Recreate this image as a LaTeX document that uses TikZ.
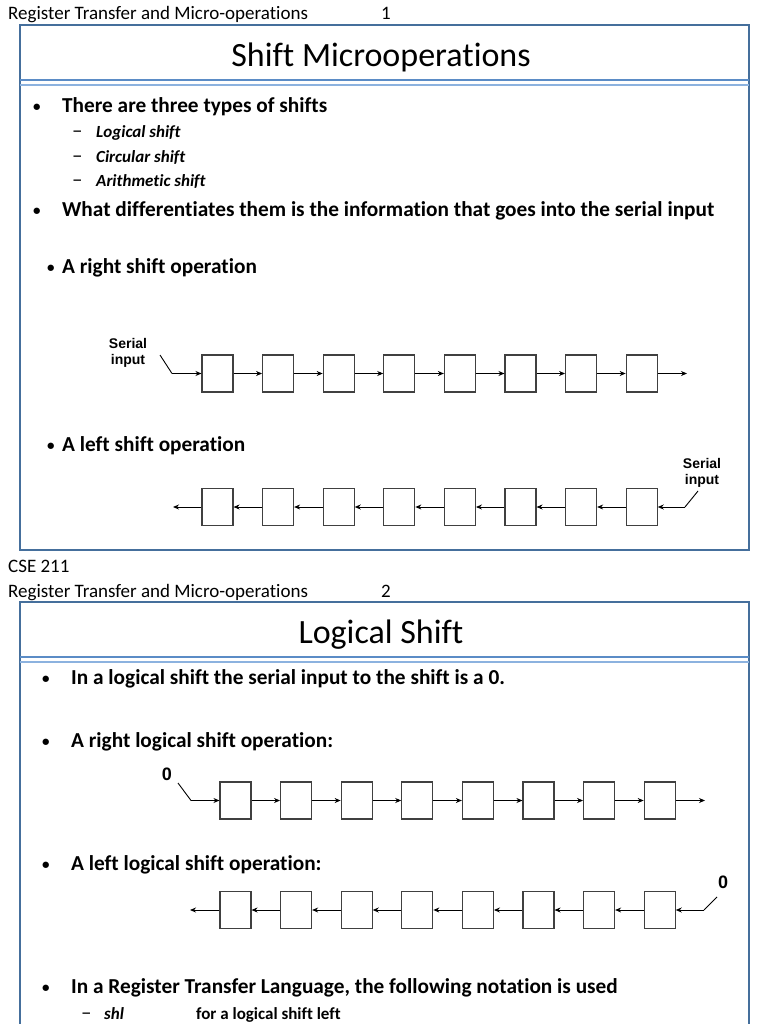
\documentclass[tikz,border=0pt]{standalone}
\usepackage{fontspec}
\setmainfont{Carlito}[Ligatures=NoCommon]
\newfontfamily\labelfont{Liberation Sans}
\usepackage{tikz}
\usetikzlibrary{arrows.meta}
\tikzset{>=Stealth}
\usetikzlibrary{positioning}
\definecolor{slideblue}{HTML}{456F9C}
\definecolor{ruleblue}{HTML}{5B8CC6}
\definecolor{rulelight}{HTML}{8CB2DF}
\tikzset{
    frame/.style={draw=slideblue, line width=1.8pt},
    header/.style={anchor=base west, inner sep=0pt, font=\fontsize{19}{22}\selectfont},
    slidetitle/.style={anchor=base, inner sep=0pt, font=\fontsize{34}{40}\selectfont},
    bodytext/.style={anchor=base west, inner sep=0pt, font=\fontsize{21.3}{25}\selectfont\bfseries},
    bullet/.style={anchor=base west, inner sep=0pt, font=\fontsize{15}{18}\selectfont\bfseries},
    subtext/.style={anchor=base west, inner sep=0pt, font=\fontsize{17}{20}\selectfont\bfseries\itshape},
    dashtext/.style={anchor=base west, inner sep=0pt, font=\fontsize{21}{24}\selectfont},
    desctext/.style={anchor=base west, inner sep=0pt, font=\fontsize{17}{20}\selectfont\bfseries},
    inlabel/.style={inner sep=0pt, align=center, font=\fontsize{14}{15.5}\selectfont\labelfont\bfseries},
    zerolabel/.style={anchor=base, inner sep=0pt, font=\fontsize{18}{20}\selectfont\labelfont\bfseries},
    reg/.style={draw=black!75, line width=1.1pt, minimum width=31pt, minimum height=37pt, inner sep=0pt},
    wire/.style={->, line width=0.9pt, >={Stealth[length=6pt,width=5pt]}},
    feed/.style={line width=0.9pt}
}
\begin{document}
\begin{tikzpicture}[x=1pt,y=-1pt]
    \useasboundingbox[fill=white] (0,0) rectangle (768,1024);
    % slide 1
    \node[header] at (8,20) (hdr1) {Register Transfer and Micro-operations};
    \node[header] at (381,20) (num1) {1};
    \draw[frame] (20,25) rectangle (749,550);
    \node[slidetitle] at (381,67) (title1) {Shift Microoperations};
    \draw[ruleblue, line width=2.2pt] (20,80) -- (749,80);
    \draw[rulelight, line width=1.6pt] (20,85) -- (749,85);
    \node[bullet] at (33,112) (bul1) {•};
    \node[bodytext] at (62,113) (types) {There are three types of shifts};
    \node[dashtext] at (72,138) (dsh1) {–};
    \node[subtext] at (96,138) (logical) {Logical shift};
    \node[dashtext] at (72,163) (dsh2) {–};
    \node[subtext] at (96,163) (circular) {Circular shift};
    \node[dashtext] at (72,187) (dsh3) {–};
    \node[subtext] at (96,187) (arith) {Arithmetic shift};
    \node[bullet] at (33,216) (bul2) {•};
    \node[bodytext] at (62,217) (differ) {What differentiates them is the information that goes into the serial input};
    \node[bullet] at (47,272) (bul3) {•};
    \node[bodytext] at (62,273) (right) {A right shift operation};
    \node[bullet] at (47,450) (bul4) {•};
    \node[bodytext] at (62,451) (left) {A left shift operation};
    % right shift chain
    \node[inlabel] at (128,353) (serA) {Serial\\input};
    \foreach \i in {1,...,8}
        \node[reg] at ({217.5+60.6*(\i-1)},373.5) (a\i) {};
    \foreach \i in {1,...,7} {
        \pgfmathtruncatemacro\j{\i+1}
        \path[wire] (a\i) edge (a\j);
    }
    \coordinate (aIn) at (160,355);
    \coordinate (aBend) at (172,373.5);
    \coordinate (aOut) at (687,373.5);
    \draw[feed] (aIn) -- (aBend);
    \path[wire] (aBend) edge (a1) (a8) edge (aOut);
    % left shift chain
    \node[inlabel] at (702,473) (serB) {Serial\\input};
    \foreach \i in {1,...,8}
        \node[reg] at ({217.5+60.6*(\i-1)},507) (b\i) {};
    \foreach \i in {1,...,7} {
        \pgfmathtruncatemacro\j{\i+1}
        \path[wire] (b\j) edge (b\i);
    }
    \coordinate (bIn) at (698,491);
    \coordinate (bBend) at (685,507);
    \coordinate (bOut) at (173,507);
    \draw[feed] (bIn) -- (bBend);
    \path[wire] (bBend) edge (b8) (b1) edge (bOut);
    % slide 2
    \node[header] at (8,572) (cse) {CSE 211};
    \node[header] at (8,597) (hdr2) {Register Transfer and Micro-operations};
    \node[header] at (381,597) (num2) {2};
    \draw[frame] (20,602) rectangle (749,1080);
    \node[slidetitle] at (381,643) (title2) {Logical Shift};
    \draw[ruleblue, line width=2.2pt] (20,657) -- (749,657);
    \draw[rulelight, line width=1.6pt] (20,662) -- (749,662);
    \node[bullet] at (42,683) (bul5) {•};
    \node[bodytext] at (71,684) (zero) {In a logical shift the serial input to the shift is a 0.};
    \node[bullet] at (42,746) (bul6) {•};
    \node[bodytext] at (71,747) (lright) {A right logical shift operation:};
    \node[bullet] at (42,869) (bul7) {•};
    \node[bodytext] at (71,870) (lleft) {A left logical shift operation:};
    \node[bullet] at (42,992) (bul8) {•};
    \node[bodytext] at (71,993) (rtl) {In a Register Transfer Language, the following notation is used};
    \node[dashtext] at (81,1019) (dsh4) {–};
    \node[subtext] at (104,1019) (shl) {shl};
    \node[desctext] at (196,1019) (shldesc) {for a logical shift left};
    % right logical shift chain
    \node[zerolabel] at (167,780) (zeroA) {0};
    \foreach \i in {1,...,8}
        \node[reg] at ({235.5+60.6*(\i-1)},800.5) (c\i) {};
    \foreach \i in {1,...,7} {
        \pgfmathtruncatemacro\j{\i+1}
        \path[wire] (c\i) edge (c\j);
    }
    \coordinate (cIn) at (178,783);
    \coordinate (cBend) at (191,800.5);
    \coordinate (cOut) at (705,800.5);
    \draw[feed] (cIn) -- (cBend);
    \path[wire] (cBend) edge (c1) (c8) edge (cOut);
    % left logical shift chain
    \node[zerolabel] at (723,888) (zeroB) {0};
    \foreach \i in {1,...,8}
        \node[reg] at ({235.5+60.6*(\i-1)},910) (d\i) {};
    \foreach \i in {1,...,7} {
        \pgfmathtruncatemacro\j{\i+1}
        \path[wire] (d\j) edge (d\i);
    }
    \coordinate (dIn) at (717,897);
    \coordinate (dBend) at (704,910);
    \coordinate (dOut) at (190,910);
    \draw[feed] (dIn) -- (dBend);
    \path[wire] (dBend) edge (d8) (d1) edge (dOut);
\end{tikzpicture}
\end{document}
